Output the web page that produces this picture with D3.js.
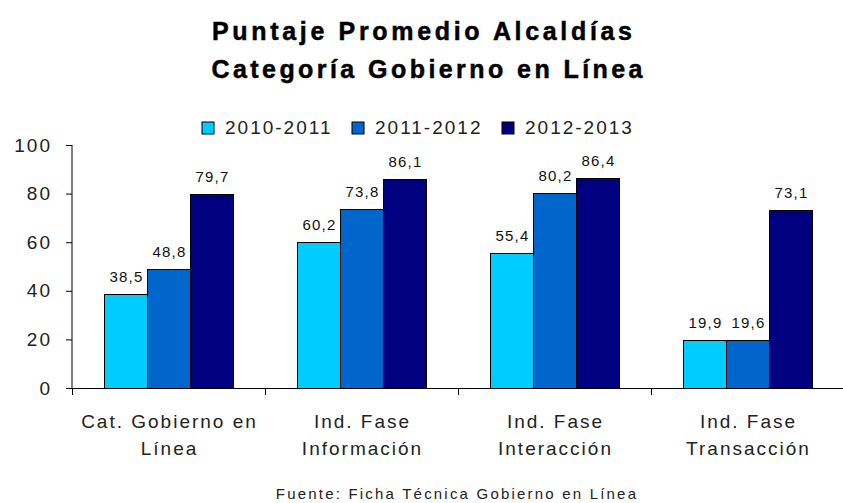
<!DOCTYPE html>
<html>
<head>
<meta charset="utf-8">
<script src="https://cdn.jsdelivr.net/npm/d3@7"></script>
<style>
  html, body { margin: 0; padding: 0; background: #fff; }
  svg { display: block; font-family: "Liberation Sans", Arial, sans-serif; }
</style>
</head>
<body>
<svg id="chart" width="843" height="503"></svg>
<script>
// ---- data ----
const categories = [
  ["Cat. Gobierno en", "Línea"],
  ["Ind. Fase", "Información"],
  ["Ind. Fase", "Interacción"],
  ["Ind. Fase", "Transacción"]
];
const seriesNames = ["2010-2011", "2011-2012", "2012-2013"];
const values2010 = [38.5, 60.2, 55.4, 19.9];
const values2011 = [48.8, 73.8, 80.2, 19.6];
const values2012 = [79.7, 86.1, 86.4, 73.1];
const yTicks = [0, 20, 40, 60, 80, 100];
const titleLines = ["Puntaje Promedio Alcaldías", "Categoría Gobierno en Línea"];
const footer = "Fuente: Ficha Técnica Gobierno en Línea";

const colors = ["#00CCFF", "#0066CC", "#000080"];
const seriesValues = [values2010, values2011, values2012];

const svg = d3.select("#chart");
const catKeys = categories.map((c, i) => i);

const x0 = d3.scaleBand().domain(catKeys).range([72, 844]).paddingInner(0).paddingOuter(0);
const x1 = d3.scaleBand().domain(seriesNames).range([0, x0.bandwidth()]).paddingInner(0).paddingOuter(0.744);
const y = d3.scaleLinear().domain([0, 100]).range([388, 145]);

// title
svg.append("g").selectAll("text").data(titleLines).join("text")
  .attr("x", (d, i) => i === 0 ? 422 : 427)
  .attr("y", (d, i) => 40 + i * 38)
  .attr("text-anchor", "middle")
  .attr("font-size", 25)
  .attr("font-weight", "bold")
  .attr("fill", "#000")
  .attr("stroke", "#000").attr("stroke-width", 0.5)
  .attr("textLength", (d, i) => i === 0 ? 420 : 431)
  .attr("lengthAdjust", "spacing")
  .text(d => d);

// legend
const leg = svg.append("g").selectAll("g").data(seriesNames).join("g")
  .attr("transform", (d, i) => `translate(${202 + i * 150},122)`);
leg.append("rect").attr("width", 12).attr("height", 12)
  .attr("fill", (d, i) => colors[i]).attr("stroke", "#000").attr("stroke-width", 1);
leg.append("text").attr("x", 23).attr("y", 11.5)
  .attr("font-size", 19).attr("letter-spacing", 2).attr("fill", "#222")
  .text(d => d);

// y axis
const yAxis = d3.axisLeft(y).tickValues(yTicks).tickSize(6).tickPadding(14).tickFormat(d3.format("d"));
const gy = svg.append("g").attr("transform", "translate(72,0)").call(yAxis);
gy.select(".domain").attr("stroke", "#000").attr("d", "M0,145V388");
gy.selectAll(".tick line").attr("stroke", "#000");
gy.selectAll(".tick text").attr("font-size", 19).attr("letter-spacing", 2)
  .attr("fill", "#222").attr("font-family", "Liberation Sans, Arial, sans-serif");

// bars
const groups = svg.append("g").selectAll("g").data(catKeys).join("g")
  .attr("transform", d => `translate(${x0(d)},0)`);
groups.selectAll("rect").data(ci => seriesNames.map((s, si) => ({s, si, v: seriesValues[si][ci]})))
  .join("rect")
  .attr("x", d => x1(d.s) + 0.5)
  .attr("y", d => Math.round(y(d.v)) + 0.5)
  .attr("width", x1.bandwidth())
  .attr("height", d => y(0) - Math.round(y(d.v)))
  .attr("fill", d => colors[d.si])
  .attr("stroke", "#000").attr("stroke-width", 1);
groups.selectAll("text.val").data(ci => seriesNames.map((s, si) => ({s, si, v: seriesValues[si][ci]})))
  .join("text").attr("class", "val")
  .attr("x", d => x1(d.s) + x1.bandwidth() / 2 + 1)
  .attr("y", d => y(d.v) - 12)
  .attr("text-anchor", "middle")
  .attr("font-size", 15).attr("letter-spacing", 1.2).attr("fill", "#111")
  .text(d => d3.format(".1f")(d.v).replace(".", ","));

// x axis
const xg = svg.append("g");
xg.append("line").attr("x1", 72).attr("x2", 843).attr("y1", 388.5).attr("y2", 388.5).attr("stroke", "#000");
const bounds = catKeys.map(k => x0(k)).concat([x0.range()[1]]);
xg.selectAll("line.tick").data(bounds).join("line").attr("class", "tick")
  .attr("x1", d => Math.round(d) + 0.5).attr("x2", d => Math.round(d) + 0.5)
  .attr("y1", 388).attr("y2", 395).attr("stroke", "#000");

// category labels
const cl = svg.append("g").selectAll("text").data(catKeys).join("text")
  .attr("x", d => x0(d) + x0.bandwidth() / 2 + 1)
  .attr("text-anchor", "middle")
  .attr("font-size", 19).attr("letter-spacing", 2).attr("fill", "#222");
cl.selectAll("tspan").data(d => categories[d]).join("tspan")
  .attr("x", function() { return d3.select(this.parentNode).attr("x"); })
  .attr("y", (d, i) => 428 + i * 27)
  .text(d => d);

// footer
svg.append("text").attr("x", 457).attr("y", 499).attr("text-anchor", "middle")
  .attr("font-size", 15).attr("letter-spacing", 2.2).attr("fill", "#222")
  .text(footer);
</script>
</body>
</html>
